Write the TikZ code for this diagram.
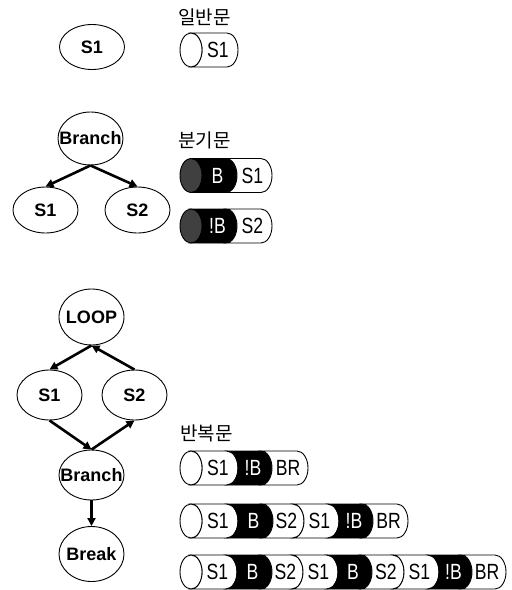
\documentclass[tikz,border=0pt]{standalone}
\usepackage{fontspec}
\usepackage{tikz}
\usetikzlibrary{shapes.geometric}
\usetikzlibrary{positioning}
\usetikzlibrary{arrows.meta}

\newfontfamily\nodefont{Liberation Sans}
\newfontfamily\cylfont[FakeStretch=0.8]{Liberation Sans}
\newfontfamily\krfont{Noto Sans CJK KR}

% text that does not widen the ellipse
\newcommand{\ctext}[1]{\makebox[0pt]{#1}}

% one row of cylinder pieces: name, y, cap colour, list label/width/fill/text colour
\newcommand{\cylrow}[4]{%
  \foreach \lab/\w/\fc/\tc [count=\i, remember=\xb as \xa (initially 191)] in {#4} {
    \pgfmathsetmacro\xb{\xa+\w}
    \filldraw[cyl, fill=\fc] (\xa,#2+17) -- (\xb,#2+17)
      arc[start angle=90, end angle=-90, x radius=11, y radius=17] -- (\xa,#2-17)
      arc[start angle=-90, end angle=90, x radius=11, y radius=17] -- cycle;
    \node[cyltext, text=\tc] (#1-\i) at ({(\xa+\xb)/2+9},#2) {\lab};
  }
  \filldraw[cyl, fill=#3] (191,#2) ellipse[x radius=11, y radius=17];
}

\begin{document}
\begin{tikzpicture}
			[x=1pt, y=1pt, thick, on grid, >={Triangle[length=8pt, width=8pt]},
			 main/.style = {draw, ellipse, line width=0.9pt, minimum width=65pt, minimum height=#1, inner sep=0pt,
			                font=\nodefont\bfseries\fontsize{18}{18}\selectfont},
			 main/.default = 50pt,
			 link/.style = {->, line width=2.6pt},
			 cyl/.style = {draw=black, line width=0.9pt},
			 cyltext/.style = {inner sep=0pt, font=\cylfont\fontsize{22}{22}\selectfont},
			 head/.style = {anchor=west, inner sep=0pt, font=\krfont\fontsize{19}{19}\selectfont}]
			\useasboundingbox (0,0) rectangle (512,-590);

			% simple statement
			\node[main=45pt] (s1) at (92,-47) {\ctext{S1}};
			\node[head] (h1) at (178,-17) {일반문};
			\cylrow{c1}{-50}{white}{S1/36/white/black}

			% branch
			\node[main=53pt] (bb) at (90.5,-138.5) {\ctext{Branch}};
			\node[main=46pt] (bs1) [below left=71.5pt and 45pt of bb] {\ctext{S1}};
			\node[main=46pt] (bs2) [below right=71.5pt and 47pt of bb] {\ctext{S2}};
			\draw[link] (bb.south) -- (bs1.north);
			\draw[link] (bb.south) -- (bs2.north);
			\node[head] (h2) at (178,-140) {분기문};
			\cylrow{c2}{-175.5}{black!75}{B/35/black/white, S1/35/white/black}
			\cylrow{c3}{-226}{black!75}{!B/35/black/white, S2/35/white/black}

			% loop
			\node[main=56pt] (loop) at (91.5,-317) {\ctext{LOOP}};
			\node[main] (ls1) [below left=78pt and 42pt of loop] {\ctext{S1}};
			\node[main] (ls2) [below right=78pt and 43pt of loop] {\ctext{S2}};
			\node[main] (lbr) [below=158pt of loop] {\ctext{Branch}};
			\node[main=55pt] (lbk) [below=79pt of lbr] {\ctext{Break}};
			\draw[link] (loop.south) -- (ls1.north);
			\draw[link] (ls2.north) -- (loop.south);
			\draw[link] (ls1.south) -- (lbr.north);
			\draw[link] (lbr.north) -- (ls2.south);
			\draw[link] (lbr.south) -- (lbk.north);
			\node[head] (h3) at (180,-433) {반복문};
			\cylrow{r1}{-468}{white}{S1/36/white/black, !B/34/black/white, BR/36/white/black}
			\cylrow{r2}{-521}{white}{S1/36/white/black, B/35/black/white, S2/31/white/black, S1/35/white/black, !B/34/black/white, BR/35/white/black}
			\cylrow{r3}{-572}{white}{S1/35/white/black, B/35/black/white, S2/31/white/black, S1/35/white/black, B/34/black/white, S2/32/white/black, S1/35/white/black, !B/33/black/white, BR/34/white/black}
		\end{tikzpicture}
\end{document}
